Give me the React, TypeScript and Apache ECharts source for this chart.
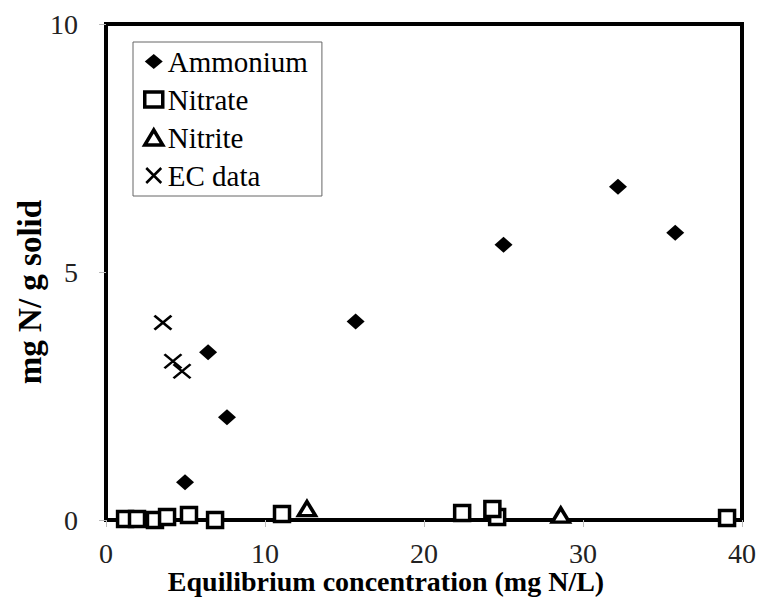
import React, { useEffect, useRef } from "react";
import * as echarts from "echarts";

const ammonium: [number, number][] = [
  [4.97, 0.76], [6.42, 3.38], [7.61, 2.07], [15.7, 4.0], [25.0, 5.55], [32.2, 6.72], [35.8, 5.79],
];
const nitrate: [number, number][] = [
  [1.2, 0.02], [1.95, 0.02], [3.08, 0.0], [3.84, 0.06], [5.22, 0.1], [6.86, 0.0], [11.07, 0.12],
  [22.4, 0.14], [24.6, 0.06], [24.3, 0.22], [39.06, 0.04],
];
const nitrite: [number, number][] = [
  [12.64, 0.23], [28.6, 0.1],
];
const ecData: [number, number][] = [
  [3.58, 3.98], [4.21, 3.2], [4.78, 3.0],
];
const seriesNames = ["Ammonium", "Nitrate", "Nitrite", "EC data"];
const xTitle = "Equilibrium concentration (mg N/L)";
const yTitle = "mg N/ g solid";

const serif = "Liberation Serif";

export default function App() {
  const ref = useRef<HTMLDivElement>(null);
  useEffect(() => {
    if (!ref.current) return;
    const chart = echarts.init(ref.current, undefined, { renderer: "svg" });
    const axisCommon = {
      axisLine: { show: false },
      axisTick: { show: true, length: 7, lineStyle: { color: "#bbb", width: 1 } },
      splitLine: { show: false },
      nameMoveOverlap: false,
    };
    const hollow = { color: "#fff", borderColor: "#000", borderWidth: 3.5, opacity: 1 };
    chart.setOption({
      animation: false,
      backgroundColor: "#fff",
      grid: {
        left: 106, top: 24, width: 636, height: 497,
        show: true, borderColor: "#000", borderWidth: 4, backgroundColor: "transparent",
      },
      legend: {
        data: [
          { name: seriesNames[0], itemStyle: { color: "#000", borderWidth: 0 } },
          { name: seriesNames[1], itemStyle: { color: "#fff", borderColor: "#000", borderWidth: 3.5 } },
          { name: seriesNames[2], itemStyle: { color: "#fff", borderColor: "#000", borderWidth: 3.5 } },
          { name: seriesNames[3], itemStyle: { color: "none", borderColor: "#000", borderWidth: 2.5 } },
        ],
        orient: "vertical",
        left: 133, top: 42,
        borderColor: "#666", borderWidth: 1,
        padding: [5, 14, 6, 10],
        itemGap: 9,
        itemWidth: 18, itemHeight: 15,
        textStyle: { fontFamily: serif, fontSize: 29, color: "#000" },
      },
      xAxis: {
        type: "value", min: 0, max: 40, interval: 10,
        ...axisCommon,
        axisLabel: { fontFamily: serif, fontSize: 28, color: "#222", margin: 19 },
        name: xTitle, nameLocation: "middle", nameGap: 47,
        nameTextStyle: { fontFamily: serif, fontSize: 28, fontWeight: "bold", color: "#000", padding: [0, 76, 0, 0] },
      },
      yAxis: {
        type: "value", min: 0, max: 10, interval: 5,
        ...axisCommon,
        axisLabel: { fontFamily: serif, fontSize: 28, color: "#222", margin: 28 },
        name: yTitle, nameLocation: "middle", nameGap: 60,
        nameTextStyle: { fontFamily: serif, fontSize: 33, fontWeight: "bold", color: "#000", padding: [0, 40, 0, 0] },
      },
      series: [
        {
          name: "Ammonium", type: "scatter", data: ammonium,
          symbol: "diamond", symbolSize: [18, 16],
          itemStyle: { color: "#000", opacity: 1 },
        },
        {
          name: "Nitrate", type: "scatter", data: nitrate,
          symbol: "rect", symbolSize: 15,
          itemStyle: hollow,
        },
        {
          name: "Nitrite", type: "scatter", data: nitrite,
          symbol: "triangle", symbolSize: [17, 14],
          itemStyle: hollow,
        },
        {
          name: "EC data", type: "scatter", data: ecData,
          symbol: "path://M0,0L10,10M10,0L0,10", symbolSize: [17, 14],
          itemStyle: { color: "none", borderColor: "#000", borderWidth: 2.5, opacity: 1 },
        },
      ],
    });
    return () => chart.dispose();
  }, []);
  return (
    <div
      ref={ref}
      style={{ position: "absolute", left: 0, top: 0, width: 761, height: 600 }}
    />
  );
}
